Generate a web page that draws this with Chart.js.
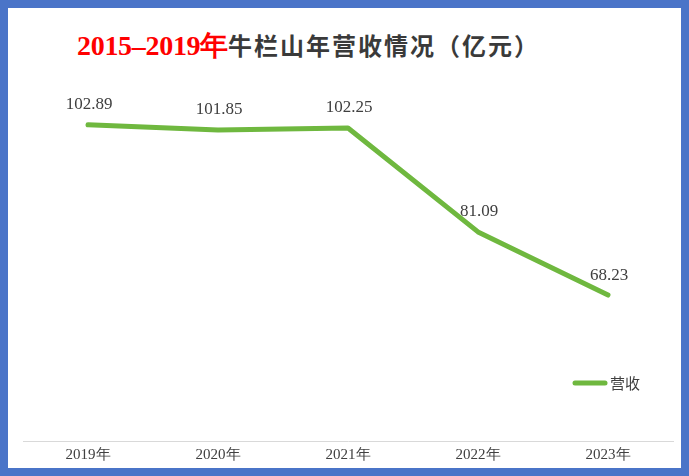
<!DOCTYPE html>
<html lang="zh">
<head>
  <meta charset="UTF-8" />
  <title>牛栏山年营收情况</title>
  <script src="https://cdn.jsdelivr.net/npm/chart.js"></script>
  <style>
    html, body { margin: 0; padding: 0; background: #fff; }
    #frame {
      position: relative;
      width: 689px; height: 476px;
      box-sizing: border-box;
      border: 8px solid #4a74c8;
      background: #fff;
      overflow: hidden;
    }
    #title {
      position: absolute;
      left: 69px; top: 22px;
      white-space: nowrap;
      font-weight: bold;
      line-height: 30px;
    }
    #title .red {
      color: #ff0000;
      font-family: "Liberation Serif", serif;
      font-size: 28px;
      letter-spacing: -0.3px;
    }
    #title .dark {
      color: #3a3a3a;
      font-family: "Noto Sans CJK SC", sans-serif;
      font-size: 24px;
      letter-spacing: 2px;
    }
    #wrap { position: absolute; left: 0; top: 0; width: 673px; height: 460px; }
  </style>
</head>
<body>
  <div id="frame">
    <div id="title"><span class="red">2015–2019年</span><span class="dark">牛栏山年营收情况（亿元）</span></div>
    <div id="wrap"><canvas id="chart"></canvas></div>
  </div>

  <script>
    const years = ['2019年', '2020年', '2021年', '2022年', '2023年'];
    const revenue = [102.89, 101.85, 102.25, 81.09, 68.23];
    const seriesName = '营收';

    const lineColor = '#6fb83f';
    const textColor = '#404040';

    // value labels above each point
    const valueLabels = {
      id: 'valueLabels',
      afterDatasetsDraw(chart) {
        const ctx = chart.ctx;
        const meta = chart.getDatasetMeta(0);
        ctx.save();
        ctx.font = '17px "Liberation Serif", serif';
        ctx.fillStyle = textColor;
        ctx.textAlign = 'center';
        ctx.textBaseline = 'middle';
        meta.data.forEach((pt, i) => {
          ctx.fillText(revenue[i].toFixed(2), pt.x + 1, pt.y - 20);
        });
        ctx.restore();
      }
    };

    // legend drawn inside the plot, bottom right
    const innerLegend = {
      id: 'innerLegend',
      afterDraw(chart) {
        const ctx = chart.ctx;
        const ds = chart.data.datasets[0];
        const x = 567, y = 375;
        ctx.save();
        ctx.strokeStyle = ds.borderColor;
        ctx.lineWidth = 5;
        ctx.lineCap = 'round';
        ctx.beginPath();
        ctx.moveTo(x, y);
        ctx.lineTo(x + 30, y);
        ctx.stroke();
        ctx.font = '15px "Noto Sans CJK SC", sans-serif';
        ctx.fillStyle = textColor;
        ctx.textBaseline = 'middle';
        ctx.fillText(ds.label, x + 35, y);
        ctx.restore();
      }
    };

    new Chart(document.getElementById('chart'), {
      type: 'line',
      data: {
        labels: years,
        datasets: [{
          label: seriesName,
          data: revenue,
          borderColor: lineColor,
          backgroundColor: lineColor,
          borderWidth: 5,
          pointRadius: 0,
          tension: 0,
          borderCapStyle: 'round',
          borderJoinStyle: 'round'
        }]
      },
      options: {
        responsive: true,
        maintainAspectRatio: false,
        animation: false,
        layout: { padding: { left: 15, right: 8, top: 52, bottom: 0 } },
        plugins: {
          legend: { display: false },
          tooltip: { enabled: false }
        },
        scales: {
          x: {
            offset: true,
            grid: { display: false, tickLength: 0 },
            border: { display: true, color: '#d9d9d9', width: 1 },
            ticks: {
              color: textColor,
              font: { family: '"Liberation Serif", serif', size: 15 },
              padding: 5
            },
            afterFit(scale) { scale.height = 27; }
          },
          y: {
            display: false,
            min: 38.5,
            max: 116.1
          }
        }
      },
      plugins: [valueLabels, innerLegend]
    });
  </script>
</body>
</html>
